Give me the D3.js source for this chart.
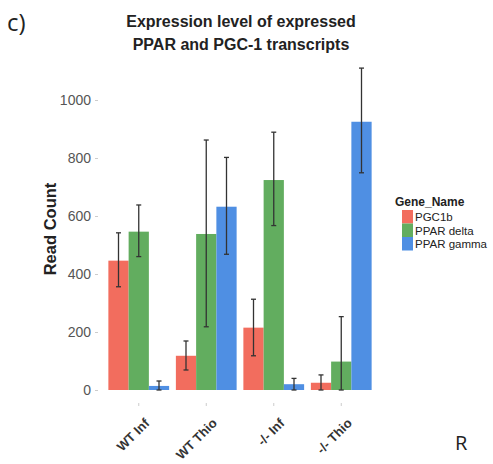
<!DOCTYPE html>
<html lang="en">
<head>
    <meta charset="UTF-8">
    <title>Expression level</title>
    <script src="https://cdn.jsdelivr.net/npm/d3@7"></script>
    <style>
        body { margin: 0; background: #fff; }
        svg { display: block; font-family: Arial, "Liberation Sans", sans-serif; }
    </style>
</head>
<body>
    <div class="container"></div>
    <script>
        // data
        const samples = ["WT Inf", "WT Thio", "-/- Inf", "-/- Thio"]
        const genes = ["PGC1b", "PPAR delta", "PPAR gamma"]
        const geneColors = ["#f26d5e", "#62ad5f", "#4f8fe3"]
        const meanPGC1b = [446, 118, 215, 25]
        const meanPPARdelta = [546, 538, 724, 98]
        const meanPPARgamma = [14, 632, 20, 925]
        const lowPGC1b = [356, 69, 118, 0]
        const highPGC1b = [542, 169, 313, 52]
        const lowPPARdelta = [460, 218, 567, 0]
        const highPPARdelta = [638, 862, 889, 253]
        const lowPPARgamma = [0, 468, 0, 749]
        const highPPARgamma = [31, 802, 40, 1110]
        const yTicks = [0, 200, 400, 600, 800, 1000]

        const means = [meanPGC1b, meanPPARdelta, meanPPARgamma]
        const lows = [lowPGC1b, lowPPARdelta, lowPPARgamma]
        const highs = [highPGC1b, highPPARdelta, highPPARgamma]

        const rows = []
        samples.forEach((s, i) => {
            genes.forEach((g, j) => {
                rows.push({ sample: s, gene: g, value: means[j][i], lo: lows[j][i], hi: highs[j][i] })
            })
        })

        const W = 493, H = 464
        const svg = d3.select(".container").append("svg")
            .attr("width", W).attr("height", H)

        const x = d3.scaleBand().domain(samples).range([105, 375]).paddingInner(0.1).paddingOuter(0.05)
        const xg = d3.scaleBand().domain(genes).range([0, x.bandwidth()])
        const y = d3.scaleLinear().domain([0, 1000]).range([390, 100])
        const color = d3.scaleOrdinal().domain(genes).range(geneColors)

        // panel label and title
        svg.append("text").attr("x", 7).attr("y", 31)
            .attr("font-family", "'Open Sans', sans-serif").attr("font-size", 24).attr("fill", "#222")
            .text("c)")
        svg.append("text").attr("x", 241).attr("y", 27).attr("text-anchor", "middle")
            .attr("font-weight", "bold").attr("font-size", 16).attr("fill", "#222")
            .text("Expression level of expressed")
        svg.append("text").attr("x", 241).attr("y", 50).attr("text-anchor", "middle")
            .attr("font-weight", "bold").attr("font-size", 16).attr("fill", "#222")
            .text("PPAR and PGC-1 transcripts")

        // y axis
        const yAxis = svg.append("g").attr("transform", "translate(98,0)")
            .call(d3.axisLeft(y).tickValues(yTicks).tickSize(3).tickPadding(4).tickFormat(d3.format("d")))
        yAxis.select(".domain").remove()
        yAxis.selectAll("line").attr("stroke", "#ccc")
        yAxis.selectAll("text").attr("font-size", 14).attr("fill", "#555").attr("font-family", "Arial, sans-serif")

        svg.append("text").attr("transform", "translate(56,229) rotate(-90)")
            .attr("text-anchor", "middle").attr("font-weight", "bold").attr("font-size", 16.5).attr("fill", "#222")
            .text("Read Count")

        // x axis
        const xAxis = svg.append("g").attr("transform", "translate(0,403)")
            .call(d3.axisBottom(x).tickSize(3).tickFormat(""))
        xAxis.select(".domain").remove()
        xAxis.selectAll("line").attr("stroke", "#ccc")

        svg.append("g").selectAll("text").data(samples).join("text")
            .attr("transform", d => `translate(${x(d) + x.bandwidth() / 2 + 11.5},424) rotate(-45)`)
            .attr("text-anchor", "end").attr("font-weight", "bold").attr("font-size", 13).attr("fill", "#333")
            .text(d => d)

        // bars
        const bars = svg.append("g")
        bars.selectAll("rect").data(rows).join("rect")
            .attr("x", d => x(d.sample) + xg(d.gene))
            .attr("y", d => y(d.value))
            .attr("width", xg.bandwidth())
            .attr("height", d => y(0) - y(d.value))
            .attr("fill", d => color(d.gene))

        // error bars
        const err = svg.append("g").attr("stroke", "#333").attr("stroke-width", 1.3)
        const cx = d => x(d.sample) + xg(d.gene) + xg.bandwidth() / 2
        err.selectAll("line.v").data(rows).join("line").attr("class", "v")
            .attr("x1", cx).attr("x2", cx)
            .attr("y1", d => y(d.lo)).attr("y2", d => y(d.hi))
        err.selectAll("line.t").data(rows).join("line").attr("class", "t")
            .attr("x1", d => cx(d) - 2.5).attr("x2", d => cx(d) + 2.5)
            .attr("y1", d => y(d.hi)).attr("y2", d => y(d.hi))
        err.selectAll("line.b").data(rows).join("line").attr("class", "b")
            .attr("x1", d => cx(d) - 2.5).attr("x2", d => cx(d) + 2.5)
            .attr("y1", d => y(d.lo)).attr("y2", d => y(d.lo))

        // legend
        const legend = svg.append("g").attr("transform", "translate(395,0)")
        legend.append("text").attr("x", 0).attr("y", 206)
            .attr("font-weight", "bold").attr("font-size", 12).attr("fill", "#222")
            .text("Gene_Name")
        const items = legend.selectAll("g").data(genes).join("g")
            .attr("transform", (d, i) => `translate(0,${210 + i * 13.5})`)
        items.append("rect").attr("x", 7).attr("width", 11).attr("height", 13.5)
            .attr("fill", d => color(d))
        items.append("text").attr("x", 20).attr("y", 11)
            .attr("font-size", 11.5).attr("fill", "#222")
            .text(d => d)

        // edge of neighbouring panel
        svg.append("text").attr("x", 455).attr("y", 450)
            .attr("font-family", "'Open Sans', sans-serif").attr("font-size", 20).attr("fill", "#222")
            .text("R")
    </script>
</body>
</html>
